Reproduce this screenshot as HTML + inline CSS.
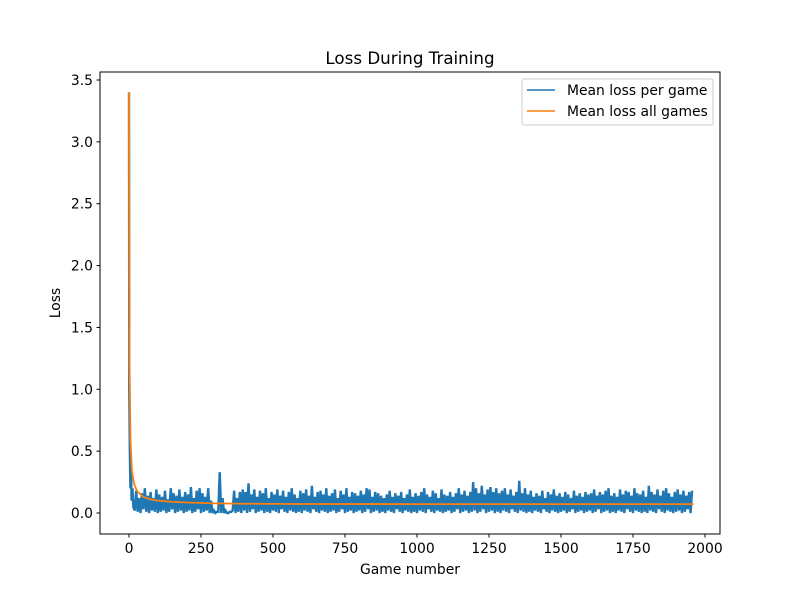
<!DOCTYPE html>
<html><head><meta charset="utf-8"><style>
body{margin:0;background:#fff}
svg text{font-family:"DejaVu Sans","Liberation Sans",sans-serif;fill:#000}
</style></head><body>
<svg id="chart" width="800" height="600" xmlns="http://www.w3.org/2000/svg">
<rect width="800" height="600" fill="#fff"/>
<text x="410" y="64" font-size="16.7" text-anchor="middle">Loss During Training</text>
<g id="plot"></g>
<g id="axes"></g>
<rect x="100" y="72" width="620" height="462" fill="none" stroke="#000" stroke-width="1"/>
<text x="410" y="574" font-size="13.9" text-anchor="middle">Game number</text>
<text transform="translate(60,303) rotate(-90)" font-size="13.9" text-anchor="middle">Loss</text>
<g>
<rect x="522" y="79" width="191" height="46" rx="2" fill="#fff" fill-opacity="0.8" stroke="#ccc"/>
<line x1="527" y1="90" x2="555" y2="90" stroke="#1f77b4" stroke-width="1.5"/>
<text x="567" y="95" font-size="13.9">Mean loss per game</text>
<line x1="527" y1="111" x2="555" y2="111" stroke="#ff7f0e" stroke-width="1.5"/>
<text x="567" y="116" font-size="13.9">Mean loss all games</text>
</g>
</svg>
<script>
const xTicks=[0,250,500,750,1000,1250,1500,1750,2000];
const yTicks=[0.0,0.5,1.0,1.5,2.0,2.5,3.0,3.5];
const headGames=[0,1,3,5,7,9,12,15];
const headLoss=[3.4,1.0,0.48,0.2,0.35,0.1,0.2,0.05];
const lossHigh=[.2,.15,.18,.12,.16,.2,.14,.17,.12,.19,.15,.13,.18,.11,.2,.16,.14,.19,.13,.17,
.15,.21,.12,.18,.2,.16,.13,.2,.1,.02,.01,.33,.12,.02,.0,.01,.18,.12,.17,.19,
.17,.24,.15,.19,.13,.18,.16,.2,.12,.17,.15,.19,.14,.18,.13,.17,.2,.15,.12,.18,
.16,.19,.14,.22,.13,.17,.18,.15,.2,.14,.16,.19,.12,.18,.15,.2,.13,.17,.16,.14,
.18,.15,.2,.19,.13,.17,.16,.14,.12,.15,.18,.13,.16,.14,.17,.12,.15,.19,.13,.16,
.14,.17,.2,.15,.13,.18,.16,.12,.19,.15,.14,.17,.13,.16,.2,.15,.18,.14,.17,.25,
.2,.16,.22,.15,.19,.21,.17,.2,.16,.18,.2,.15,.19,.14,.17,.26,.16,.2,.15,.18,
.13,.16,.14,.18,.12,.17,.15,.19,.14,.16,.13,.17,.15,.12,.18,.14,.16,.13,.17,.15,
.16,.19,.14,.17,.15,.18,.2,.14,.16,.13,.19,.15,.18,.17,.14,.2,.16,.15,.18,.13,
.22,.17,.15,.19,.14,.18,.2,.16,.13,.17,.19,.15,.18,.14,.17,.18];
const lossLow=[.01,.0,.02,.01,.0,.03,.01,.0,.02,.01,.0,.01,.02,.0,.01,.03,.0,.01,.02,.0,
.01,.02,.0,.01,.03,.0,.01,.02,.0,.0,.0,.01,.0,.0,.0,.01,.02,.0,.01,.0,
.02,.0,.01,.03,.0,.01,.02,.0,.01,.0,.02,.01,.0,.03,.01,.0,.02,.01,.0,.01,
.0,.02,.01,.0,.03,.01,.0,.02,.01,.0,.01,.02,.0,.01,.03,.0,.01,.02,.0,.01,
.02,.0,.01,.03,.0,.01,.02,.0,.01,.0,.02,.01,.0,.03,.01,.0,.02,.01,.0,.01,
.0,.02,.01,.0,.03,.01,.0,.02,.01,.0,.01,.02,.0,.01,.03,.0,.01,.02,.0,.01,
.02,.0,.01,.03,.0,.01,.02,.0,.01,.0,.02,.01,.0,.03,.01,.0,.02,.01,.0,.01,
.0,.02,.01,.0,.03,.01,.0,.02,.01,.0,.01,.02,.0,.01,.03,.0,.01,.02,.0,.01,
.02,.0,.01,.03,.0,.01,.02,.0,.01,.0,.02,.01,.0,.03,.01,.0,.02,.01,.0,.01,
.0,.02,.01,.0,.03,.01,.0,.02,.01,.0,.01,.02,.0,.01,.03,.0];
const meanGames=[0,2,5,10,15,20,30,40,50,75,100,150,200,300,400,600,1000,1500,1960];
const meanLoss=[3.4,1.2,0.6,0.35,0.27,0.22,0.17,0.15,0.13,0.11,0.1,0.09,0.085,0.078,0.075,0.073,0.072,0.072,0.072];

const NS="http://www.w3.org/2000/svg";
const xs=v=>129+v*(705-129)/2000;
const ys=v=>513-v*(513-80)/3.5;
const plot=document.getElementById('plot'), axes=document.getElementById('axes');
function mk(tag,attrs,parent){const e=document.createElementNS(NS,tag);for(const k in attrs)e.setAttribute(k,attrs[k]);parent.appendChild(e);return e;}

xTicks.forEach(t=>{
  const l=mk('line',{x1:xs(t),x2:xs(t),y1:534,y2:537.5,stroke:'#000'},axes);
  
  
  const tx=mk('text',{x:xs(t),y:553,'font-size':13.9,'text-anchor':'middle'},axes);
  tx.textContent=String(t);
  
  
});
yTicks.forEach(t=>{
  const l=mk('line',{x1:96.5,x2:100,y1:ys(t),y2:ys(t),stroke:'#000'},axes);
  
  
  const tx=mk('text',{x:93,y:ys(t)+5,'font-size':13.9,'text-anchor':'end'},axes);
  tx.textContent=t.toFixed(1);
  
  
});

let pts=[];
headGames.forEach((g,i)=>pts.push([xs(g),ys(headLoss[i])]));
for(let i=2;i<lossHigh.length;i++){
  pts.push([xs(i*10),ys(lossLow[i])]);
  pts.push([xs(i*10+5),ys(lossHigh[i])]);
}
const blue=mk('polyline',{points:pts.map(p=>p.join(',')).join(' '),fill:'none',stroke:'#1f77b4','stroke-width':2.4,'stroke-linejoin':'miter','stroke-miterlimit':2},plot);



const mpts=meanGames.map((g,i)=>xs(g)+','+ys(meanLoss[i])).join(' ');
const orange=mk('polyline',{points:mpts,fill:'none',stroke:'#ff7f0e','stroke-width':1.8,'stroke-linejoin':'round'},plot);


</script>
</body></html>
